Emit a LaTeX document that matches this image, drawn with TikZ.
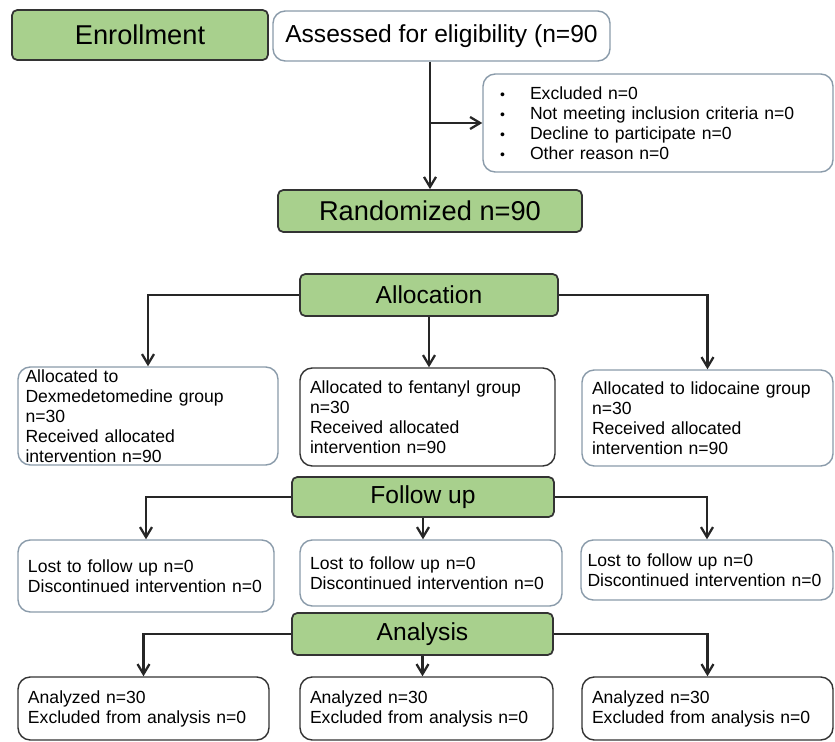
\documentclass[tikz,border=0pt]{standalone}
\usepackage{fontspec}
\setmainfont{Liberation Sans}
\usetikzlibrary{arrows.meta}
\definecolor{stagegreen}{HTML}{A8D08D}
\definecolor{boxedge}{HTML}{8A9BAA}
\newcommand{\exclitem}{\hspace*{0.14cm}\makebox[0.6cm][l]{\footnotesize\textbullet}}
\begin{document}
\begin{tikzpicture}[
    stagebox/.style={rectangle, rounded corners=3pt, fill=stagegreen, draw=black!80, line width=1pt, font=\fontsize{14}{16}\selectfont, inner sep=0pt},
    infobox/.style={rectangle, rounded corners=7pt, fill=white, draw=boxedge, line width=0.8pt, font=\fontsize{10}{11.4}\selectfont, align=left, inner sep=0pt},
    darkbox/.style={infobox, draw=black!80},
    flow/.style={-{Straight Barb[length=2mm,width=2.4mm]}, line width=1.3pt, black!85}
]
    \useasboundingbox (0,0) rectangle (16.7,-14.84);

    \node[stagebox, minimum width=5.12cm, minimum height=1.0cm, font=\fontsize{15.5}{18}\selectfont] at (2.80,-0.70) (enrol) {Enrollment};
    \node[infobox, minimum width=6.74cm, minimum height=1.0cm, font=\fontsize{14}{16}\selectfont] at (8.83,-0.72) (assess) {Assessed for eligibility (n=90};
    \node[infobox, minimum width=7.0cm, minimum height=1.96cm, text width=6.6cm] at (13.16,-2.46) (excl) {%
        \exclitem Excluded n=0\\
        \exclitem Not meeting inclusion criteria n=0\\
        \exclitem Decline to participate n=0\\
        \exclitem Other reason n=0};
    \node[stagebox, minimum width=6.08cm, minimum height=0.84cm, font=\fontsize{15.5}{18}\selectfont] at (8.60,-4.22) (rand) {Randomized n=90};

    % allocation
    \node[stagebox, minimum width=5.16cm, minimum height=0.84cm] at (8.58,-5.90) (alloc) {Allocation};
    \node[infobox, minimum width=5.2cm, minimum height=1.96cm, text width=4.9cm] at (2.96,-8.32) (allocA) {Allocated to\\ Dexmedetomedine group\\ n=30\\ Received allocated\\ intervention n=90};
    \node[darkbox, minimum width=5.1cm, minimum height=1.96cm, text width=4.7cm] at (8.55,-8.34) (allocB) {Allocated to fentanyl group\\ n=30\\ Received allocated\\ intervention n=90};
    \node[infobox, minimum width=5.02cm, minimum height=1.92cm, text width=4.62cm] at (14.15,-8.36) (allocC) {Allocated to lidocaine group\\ n=30\\ Received allocated\\ intervention n=90};

    % follow up
    \node[stagebox, minimum width=5.24cm, minimum height=0.8cm] at (8.46,-9.94) (follow) {Follow up};
    \node[infobox, minimum width=5.12cm, minimum height=1.44cm, text width=4.72cm] at (2.92,-11.52) (lostA) {Lost to follow up n=0\\ Discontinued intervention n=0};
    \node[infobox, minimum width=5.24cm, minimum height=1.32cm, text width=4.84cm] at (8.62,-11.46) (lostB) {Lost to follow up n=0\\ Discontinued intervention n=0};
    \node[infobox, minimum width=5.04cm, minimum height=1.2cm, text width=4.78cm] at (14.14,-11.40) (lostC) {Lost to follow up n=0\\ Discontinued intervention n=0};

    % analysis
    \node[stagebox, minimum width=5.22cm, minimum height=0.84cm] at (8.45,-12.68) (analysis) {Analysis};
    \node[darkbox, minimum width=5.02cm, minimum height=1.26cm, text width=4.62cm] at (2.87,-14.17) (anaA) {Analyzed n=30\\ Excluded from analysis n=0};
    \node[darkbox, minimum width=5.06cm, minimum height=1.26cm, text width=4.66cm] at (8.53,-14.17) (anaB) {Analyzed n=30\\ Excluded from analysis n=0};
    \node[darkbox, minimum width=5.02cm, minimum height=1.26cm, text width=4.62cm] at (14.15,-14.17) (anaC) {Analyzed n=30\\ Excluded from analysis n=0};

    \coordinate (split) at (rand.north |- excl.west);
    \draw[flow] (assess.south -| rand.north) -- (rand.north);
    \draw[flow] (split) -- (excl.west);

    \draw[flow] (alloc.west) -| (allocA.north);
    \draw[flow] (alloc.south) -- (alloc.south |- allocB.north);
    \draw[flow] (alloc.east) -| (allocC.north);

    \draw[flow] (follow.west) -| (lostA.north);
    \draw[flow] (follow.south) -- (follow.south |- lostB.north);
    \draw[flow] (follow.east) -| (lostC.north);

    \draw[flow] (analysis.west) -| (anaA.north);
    \draw[flow] (analysis.south) -- (analysis.south |- anaB.north);
    \draw[flow] (analysis.east) -| (anaC.north);
\end{tikzpicture}
\end{document}
